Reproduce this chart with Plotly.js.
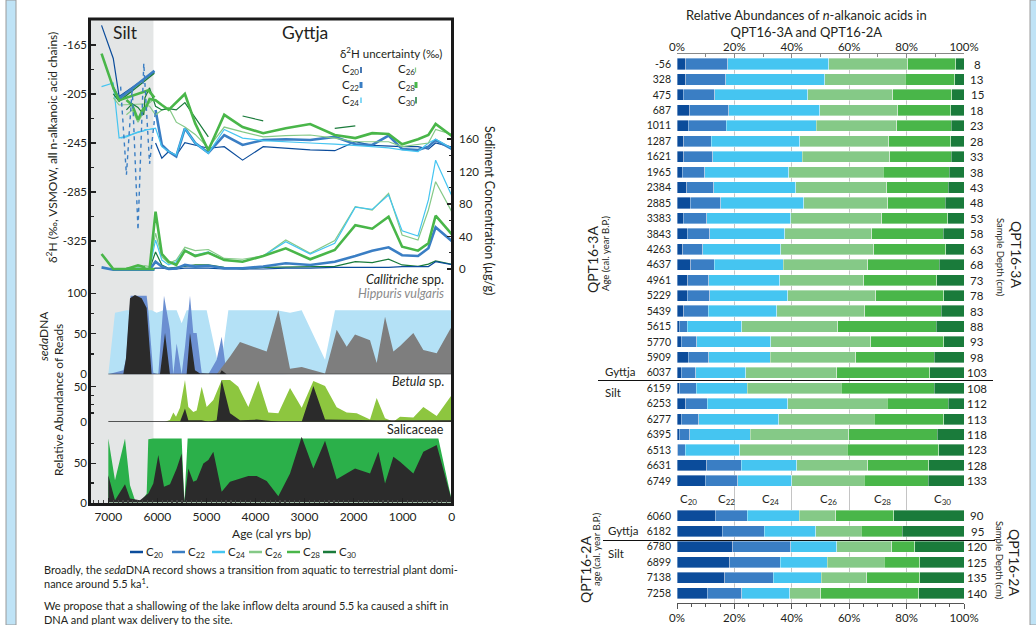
<!DOCTYPE html>
<html><head><meta charset="utf-8">
<script src="https://cdn.plot.ly/plotly-3.0.1.min.js"></script>
<style>html,body{margin:0;padding:0;background:#fff;} #chart{width:1036px;height:625px;}</style>
</head><body><div id="chart"></div>
<script>
// ---------------- DATA ----------------
// QPT16-3A samples (age cal yr BP, depth cm)
const ages3A = [-56, 328, 475, 687, 1011, 1287, 1621, 1965, 2384, 2885, 3383, 3843, 4263, 4637, 4961, 5229, 5439, 5615, 5770, 5909, 6037, 6159, 6253, 6277, 6395, 6513, 6631, 6749];
const depths3A = [8, 13, 15, 18, 23, 28, 33, 38, 43, 48, 53, 58, 63, 68, 73, 78, 83, 88, 93, 98, 103, 108, 112, 113, 118, 123, 128, 133];
// QPT16-2A samples
const ages2A = [6060, 6182, 6780, 6899, 7138, 7258];
const depths2A = [90, 95, 120, 125, 135, 140];
const chains = ['C20', 'C22', 'C24', 'C26', 'C28', 'C30'];
const chainLabels = ['C<sub>20</sub>', 'C<sub>22</sub>', 'C<sub>24</sub>', 'C<sub>26</sub>', 'C<sub>28</sub>', 'C<sub>30</sub>'];
const d2HTicks = [-165, -205, -245, -285, -325];
const concTicks = [0, 40, 80, 120, 160];
const pctTicks = [0, 20, 40, 60, 80, 100];

// relative abundances (%) 3A
const c20_3A = [3.1, 3.0, 2.2, 4.4, 3.9, 2.3, 2.3, 1.9, 3.4, 4.6, 2.2, 3.5, 2.0, 4.8, 3.7, 3.5, 2.3, 0.8, 1.5, 3.9, 1.5, 0.8, 3.0, 1.5, 0.7, 0.2, 10.4, 9.9];
const c22_3A = [14.5, 13.9, 11.0, 13.6, 13.2, 9.6, 10.1, 7.8, 9.4, 10.6, 8.1, 7.9, 6.9, 8.1, 7.3, 7.9, 8.6, 2.8, 5.3, 7.1, 5.1, 5.9, 7.6, 6.0, 3.7, 2.6, 12.0, 11.3];
const c24_3A = [35.3, 34.5, 32.4, 31.7, 31.5, 30.8, 31.3, 29.3, 28.5, 29.0, 29.3, 26.1, 27.2, 24.2, 24.8, 27.1, 23.9, 18.9, 25.8, 21.5, 17.3, 17.7, 28.0, 27.9, 21.1, 19.1, 19.4, 18.7];
const c26_3A = [27.5, 28.1, 29.6, 27.2, 28.0, 31.1, 30.5, 32.8, 31.7, 29.2, 31.7, 30.4, 32.5, 29.4, 29.3, 30.8, 30.7, 33.5, 34.9, 29.8, 31.8, 32.8, 34.7, 33.3, 34.4, 37.4, 24.7, 25.3];
const c28_3A = [16.8, 17.3, 20.6, 18.5, 18.9, 21.6, 21.3, 23.1, 21.5, 20.0, 23.0, 24.8, 25.1, 24.9, 25.4, 23.7, 26.5, 34.3, 25.5, 27.3, 32.4, 32.4, 21.2, 24.3, 30.7, 31.9, 21.2, 22.4];
const c30_3A = [2.8, 3.2, 4.2, 4.6, 4.5, 4.6, 4.5, 5.1, 5.5, 6.6, 5.7, 7.3, 6.3, 8.6, 9.5, 7.0, 8.0, 9.7, 7.0, 10.4, 11.9, 10.4, 5.5, 7.0, 9.4, 8.8, 12.3, 12.4];
// relative abundances (%) 2A
const c20_2A = [13.3, 15.8, 19.4, 18.3, 16.6, 10.6];
const c22_2A = [11.1, 14.6, 20.2, 17.7, 17.0, 11.9];
const c24_2A = [18.2, 17.9, 16.0, 16.4, 16.7, 16.7];
const c26_2A = [12.7, 15.9, 19.2, 19.8, 15.8, 10.9];
const c28_2A = [20.2, 14.3, 8.0, 12.4, 18.5, 34.2];
const c30_2A = [24.5, 21.5, 17.2, 15.4, 15.4, 15.7];

// d2H (permil) 3A, same order as ages3A
const d2H_c20_3A = [-249, -245, -250, -248, -248, -247.5, -247, -244, -251.3, -250.7, -249, -248, -259, -248, -249.3, -247, -244.7, -255, -252, -257.5, -245, null, null, null, null, null, null, null];
const d2H_c22_3A = [-251, -242.6, -248, -250.7, -250, -239, -246.6, -246, -240, -242.6, -242, -242.6, -246.6, -238.5, -253, -245, -233, -256, -252, -246.6, -218, null, null, null, null, null, null, null];
const d2H_c24_3A = [-250.7, -242, -245, -252, -250.7, -249, -248, -247, -246, -245, -244, -243, -241, -234, -253.4, -245, -233, -255, -252, -248, -233, -234, -234, -235, -236, -238, -240, -241];
const d2H_c26_3A = [-238.5, -234, -245, -246, -248, -244, -244, -244, -241, -238.5, -239, -240, -236, -232, -249, -238, -232, -228, -216, -218, -222, -215, -214, -220, -228, -218, -222, null];
const d2H_c28_3A = [-241, -229.5, -238.5, -242, -246, -237.6, -237, -241, -238.5, -229.5, -233, -237, -232, -222, -251, -229, -205, -212, -218, -214, -210, -209, -218, -216, -226, -214, -210, null];
const d2H_c30_3A = [null, null, null, null, null, null, null, -231, -233, null, null, -227, -223, null, -240, -224, -212, -218, -217, -218, -215, -200, -208, -222, -216, -213, -218, null];
// C22 silt values (dashed)
const silt_c22_ages = [6749, 6631, 6513, 6395, 6277, 6159, 6037];
const silt_c22_d2H = [-199, -271, -200, -316, -180, -262, -218];
// d2H 2A, same order as ages2A
const d2H_c20_2A = [-187, null, -207, -176, -149, null];
const d2H_c22_2A = [-186, null, -209, -200, null, null];
const d2H_c24_2A = [-233, -234, -241, -196, -199, null];
const d2H_c26_2A = [-209, -213, -214, -208, null, null];
const d2H_c28_2A = [-208, -202, -210, -200, -172, null];
const d2H_c30_2A = [-188, null, -211, -205, null, null];

// sediment concentration (ug/g) 3A
const conc_c20_3A = [5, 9, 3, 3, 3, 2, 2, 2, 2, 1, 1, 0, 0, 0, 1, 1, 1, 0, 0, 1, 1, -1, -1, -1, -1, -1, -1, null];
const conc_c22_3A = [31.6, 51.3, 25.5, 16, 17, 26.7, 22.6, 16, 9, 5, 7, 3, 1, 1, 4, 2.9, 5, 0.8, 0, 2.9, 9, -1, -1, -1, -1, -1, -1, null];
const conc_c24_3A = [82.8, 134, 85, 40.6, 47, 91, 73.4, 76, 31.6, 18.5, 33.6, 16, 9, 11, 21, 17, 23.4, 9, 5, 11, 35.7, 1, 0, 0, 1, 0, 0, null];
const conc_c26_3A = [64.4, 107.5, 72.6, 35.7, 41.8, 93, 72.6, 76.7, 34.9, 19.3, 35.7, 16, 12, 13, 24, 22.6, 26.7, 11, 7, 15, 44, 3, 4, 2, 3, 2, 1, null];
const conc_c28_3A = [39, 65.6, 31.6, 22.6, 27.4, 64.4, 49.6, 54, 23.4, 12, 25.5, 16, 9, 11, 20, 16, 22.6, 5, 9, 18.5, 70.5, 0, 0, 2.5, 4.5, 2, 0, null];
const conc_c30_3A = [5, 10, 6, 3.3, 5, 12, 7.8, 9, 3.3, 3, 3, 2, 0, 2, 5, 5, 3.3, 2, 1, 5, 21, 0, 0, 0, 0, 0, 0, null];
// concentration 2A
const conc_c22_2A = [-1, -1, -1, -1, 2, null];
const conc_c28_2A = [0, 0, 0, 0, 18.5, null];

// sedaDNA relative abundance of reads (%)
const aqA_ages = [7000, 6864, 6626, 6117, 6015, 5879, 5607, 5505, 5403, 4995, 4723, 4553, 3772, 3568, 3296, 3058, 2582, 2379, 0];
const aqA_vals = [0, 76, 79, 79, 76, 79, 79, 63, 79, 79, 2, 79, 79, 79, 76, 79, 18, 79, 79];
const aqB_ages = [7000, 6694, 6640, 6545, 6218, 6185, 6083, 5981, 5865, 5743, 5675, 5607, 5505, 5437, 5335, 5267, 5199, 5097, 4961, 4791, 4689, 4587, 4316, 4044, 3772, 3296];
const aqB_vals = [0, 5, 18, 97, 97, 79, 2, 0, 97, 55, 0, 38, 0, 34, 97, 51, 51, 2, 0, 18, 46.5, 0, 9.5, 3, 1, 0];
const callitriche_ages = [7000, 6694, 6640, 6558, 6456, 6320, 6218, 6117, 5947, 5844, 5743, 5403, 5335, 5233, 5131, 4723, 4689, 4587];
const callitriche_vals = [0, 0, 20, 94, 98, 94, 82, 0, 0, 51, 0, 0, 51, 5, 1, 1, 5, 0];
const hippuris_ages = [5199, 4791, 4519, 4316, 3772, 3534, 3296, 3058, 2582, 2345, 2141, 1971, 1665, 1529, 1359, 1189, 1053, 782, 578, 306, 0];
const hippuris_vals = [0, 0, 22, 40, 28, 79, 7, 9, 1, 55, 34, 49, 42, 14, 71, 28, 35, 51, 30, 26, 59];
const betulaA_ages = [5844, 5743, 5675, 5620, 5539, 5437, 5369, 5267, 5199, 5097, 4995, 4859, 4689, 4519, 4350, 4146, 3942, 3738, 3534, 3296, 3058, 2820, 2582, 2345, 2141, 1937, 1665, 1529, 1359, 1189, 1053, 782, 578, 306, 0];
const betulaA_vals = [0, 2.4, 13, 7, 20, 59.5, 21, 14, 16, 50, 21, 31, 59.5, 59.5, 50, 21, 58.6, 13, 12, 48, 20, 58, 51, 20.5, 13, 12, 3.3, 34, 5, 0, 7, 6, 21, 8, 38];
const betulaB_ages = [5539, 5437, 5369, 5097, 4961, 4791, 4689, 4519, 4316, 3976, 3534, 3058, 2820, 2582, 1529, 0];
const betulaB_vals = [0, 19, 2, 2, 0, 2, 59.5, 12, 2, 3, 0, 0, 51, 3, 2, 2];
const salixA_ages = [7000, 6864, 6660, 6558, 6456, 6320, 6218, 6185, 6083, 5505, 5450, 5383, 272, 0];
const salixA_vals = [82, 28.6, 82, 22, 3, 2, 11.5, 81, 82, 82, 0, 82, 82, 3];
const salixB_ages = [7000, 6864, 6660, 6558, 6354, 6185, 6083, 5981, 5865, 5743, 5607, 5505, 5450, 5369, 5267, 5199, 5063, 4961, 4859, 4689, 4519, 4146, 3976, 3772, 3534, 3296, 3058, 2820, 2582, 2345, 1971, 1665, 1495, 1359, 1189, 1053, 782, 578, 306, 0];
const salixB_vals = [35, 3, 23.5, 5, 3, 11.5, 24.4, 60.7, 20, 23.5, 43.6, 62.8, 1, 43.6, 26.5, 28.6, 50, 54.3, 65, 13.7, 26.5, 33.8, 33.8, 27.4, 8, 37, 84, 43.6, 79, 29.9, 43.6, 37, 65, 24.4, 58.6, 52, 37, 65, 73.5, 3];

// ---------------- STYLE ----------------
const COL = {C20:'#0b4c9b', C22:'#3a7ec4', C24:'#45c5f1', C26:'#85c987', C28:'#49b649', C30:'#1a7b3b'};
const WID = {C20:1.2, C22:2.6, C24:1.2, C26:1.2, C28:2.6, C30:1.2};
const FONT = 'Lato, "Open Sans", sans-serif';
const TXT = '#231f20';
const W = 1036, H = 625;
const PX = x => x / W, PY = y => 1 - y / H;

const traces = [];
function area(x, y, color, ya) {
  traces.push({type:'scatter', mode:'lines', x:x, y:y, fill:'tozeroy', fillcolor:color,
    line:{width:0, color:color}, xaxis:'x', yaxis:ya, hoverinfo:'skip', showlegend:false});
}
area(aqA_ages, aqA_vals, '#b4e1f6', 'y3');
area(aqB_ages, aqB_vals, '#6b8fd1', 'y3');
area(hippuris_ages, hippuris_vals, '#7e7e7e', 'y3');
area(callitriche_ages, callitriche_vals, '#2b2b2b', 'y3');
area(betulaA_ages, betulaA_vals, '#8dc63f', 'y4');
area(betulaB_ages, betulaB_vals, '#2b2b2b', 'y4');
area(salixA_ages, salixA_vals, '#2bb04a', 'y5');
area(salixB_ages, salixB_vals, '#2b2b2b', 'y5');

function line(x, y, ch, ya, extra) {
  traces.push(Object.assign({type:'scatter', mode:'lines', x:x, y:y, xaxis:'x', yaxis:ya,
    line:{color:COL[ch], width:WID[ch]}, hoverinfo:'skip', showlegend:false}, extra || {}));
}
const conc3A = {C20:conc_c20_3A, C22:conc_c22_3A, C24:conc_c24_3A, C26:conc_c26_3A, C28:conc_c28_3A, C30:conc_c30_3A};
const d2H3A = {C20:d2H_c20_3A, C22:d2H_c22_3A, C24:d2H_c24_3A, C26:d2H_c26_3A, C28:d2H_c28_3A, C30:d2H_c30_3A};
const d2H2A = {C20:d2H_c20_2A, C22:d2H_c22_2A, C24:d2H_c24_2A, C26:d2H_c26_2A, C28:d2H_c28_2A, C30:d2H_c30_2A};
['C30','C20','C22','C26','C24','C28'].forEach(ch => line(ages3A, conc3A[ch], ch, 'y2'));
line(ages2A, conc_c22_2A, 'C22', 'y2');
line(ages2A, conc_c28_2A, 'C28', 'y2');
['C20','C22','C24','C26','C30','C28'].forEach(ch => {
  line(ages3A, d2H3A[ch], ch, 'y');
  line(ages2A, d2H2A[ch], ch, 'y', {connectgaps:true});
});
line(silt_c22_ages, silt_c22_d2H, 'C22', 'y', {line:{color:COL.C22, width:1.4, dash:'4px,4px'}});

// bars
const GAP = 29.27;
const pos3A = ages3A.map((a, i) => i);
const pos2A = ages2A.map((a, j) => GAP + j);
const posAll = pos3A.concat(pos2A);
const barVals = {
  C20: c20_3A.concat(c20_2A), C22: c22_3A.concat(c22_2A), C24: c24_3A.concat(c24_2A),
  C26: c26_3A.concat(c26_2A), C28: c28_3A.concat(c28_2A), C30: c30_3A.concat(c30_2A)
};
chains.forEach(ch => traces.push({type:'bar', orientation:'h', x:barVals[ch], y:posAll, width:0.72,
  marker:{color:COL[ch], line:{color:'rgba(255,255,255,0.6)', width:0.6}}, xaxis:'x3', yaxis:'y6',
  hoverinfo:'skip', showlegend:false}));
// carrier for the bottom percentage axis
traces.push({type:'scatter', mode:'none', x:[0, 100], y:[0, 0], xaxis:'x4', yaxis:'y6', hoverinfo:'skip', showlegend:false});

// ---------------- LAYOUT ----------------
const tf = s => ({family:FONT, size:s, color:TXT});
const leftY = (dom, rng, dt, mdt) => ({domain:dom, range:rng, anchor:'x', tickmode:'linear', tick0:0, dtick:dt,
  ticks:'inside', ticklen:5, tickwidth:1.2, tickcolor:'#222', showgrid:false, zeroline:false, showline:false,
  tickfont:tf(11.5), minor:{ticks:'inside', ticklen:3, tickcolor:'#222', tick0:0, dtick:mdt}, ticklabelstandoff:3});

const layout = {
  width:W, height:H, margin:{l:0, r:0, t:0, b:0}, paper_bgcolor:'#fff', plot_bgcolor:'rgba(0,0,0,0)',
  font:{family:FONT, color:TXT}, showlegend:false, barmode:'stack',
  xaxis:{domain:[PX(91), PX(452)], range:[7353, -6], anchor:'y5', tickmode:'linear', tick0:0, dtick:1000,
    ticks:'inside', ticklen:5, tickwidth:1.2, tickcolor:'#222', showgrid:false, zeroline:false, showline:false,
    tickfont:tf(12), ticklabelstandoff:5, minor:{ticks:'inside', ticklen:3, tickcolor:'#444', dtick:100, tick0:0},
    title:{text:'Age (cal yrs bp)', font:tf(12), standoff:7}},
  yaxis:Object.assign(leftY([PY(282), PY(20)], [-358.5, -144.6], 40, 20), {tickmode:'array', tickvals:d2HTicks,
    ticktext:d2HTicks.map(String), minor:{ticks:'inside', ticklen:3, tickcolor:'#222', tickmode:'linear', tick0:-165, dtick:20}}),
  yaxis2:{overlaying:'y', side:'right', anchor:'x', range:[-16, 306.5], tickmode:'array', tickvals:concTicks,
    ticks:'inside', ticklen:5, tickwidth:1.2, tickcolor:'#222', showgrid:false, zeroline:false, showline:false,
    tickfont:tf(11.5), ticklabelstandoff:6, minor:{ticks:'inside', ticklen:3, tickcolor:'#222', tickmode:'array', tickvals:[20, 60, 100, 140]}},
  yaxis3:leftY([PY(374.3), PY(290)], [0, 104.07], 50, 25),
  yaxis4:leftY([PY(421.7), PY(378)], [0, 62.43], 50, 12.5),
  yaxis5:leftY([PY(502.5), PY(428)], [0, 95.3], 50, 25),
  xaxis3:{domain:[PX(677), PX(964)], range:[0, 100], anchor:'y6', side:'top', tickmode:'array', tickvals:pctTicks,
    ticktext:pctTicks.map(v => v + '%'), ticks:'inside', ticklen:4, tickcolor:'#888', showline:true, linecolor:'#888', linewidth:1,
    showgrid:true, gridcolor:'#c4c4c4', gridwidth:1, zeroline:false, tickfont:tf(11.5), ticklabelstandoff:-3,
    minor:{ticks:'inside', ticklen:3, tickcolor:'#888', tickmode:'array', tickvals:[10, 30, 50, 70, 90]}},
  xaxis4:{overlaying:'x3', range:[0, 100], anchor:'y6', side:'bottom', tickmode:'array', tickvals:pctTicks,
    ticktext:pctTicks.map(v => v + '%'), ticks:'outside', ticklen:5, tickcolor:'#555', showline:true, linecolor:'#555', linewidth:1,
    showgrid:false, zeroline:false, tickfont:tf(11.5),
    minor:{ticks:'outside', ticklen:3, tickcolor:'#555', tickmode:'array', tickvals:[5,10,15,25,30,35,45,50,55,65,70,75,85,90,95]}},
  yaxis6:{domain:[PY(602.5), PY(54)], range:[34.88, -0.65], anchor:'x3', tickmode:'array', tickvals:posAll,
    ticktext:ages3A.concat(ages2A).map(String), ticks:'', showgrid:false, zeroline:false, showline:false,
    tickfont:tf(10.5), ticklabelstandoff:5},
  shapes:[], annotations:[]
};
const S = layout.shapes, A = layout.annotations;
// side stripes
S.push({type:'rect', xref:'paper', yref:'paper', x0:PX(6), x1:PX(16), y0:0, y1:1, fillcolor:'#bfe3f6', line:{color:'#9a9a9a', width:1}, layer:'below'});
S.push({type:'rect', xref:'paper', yref:'paper', x0:PX(1030), x1:PX(1037), y0:0, y1:1, fillcolor:'#bfe3f6', line:{color:'#9a9a9a', width:1}, layer:'below'});
// silt shading
S.push({type:'rect', xref:'x', yref:'paper', x0:7353, x1:6080, y0:PY(503), y1:PY(20), fillcolor:'#e4e6e6', line:{width:0}, layer:'below'});
// baselines
S.push({type:'line', xref:'x', yref:'y3', x0:7000, x1:0, y0:0, y1:0, line:{color:'#222', width:1.3}});
S.push({type:'line', xref:'x', yref:'y4', x0:7000, x1:0, y0:0, y1:0, line:{color:'#222', width:1.3}});
// frame
S.push({type:'rect', xref:'paper', yref:'paper', x0:PX(89.5), x1:PX(452.5), y0:PY(504.5), y1:PY(19), line:{color:'#1a1a1a', width:3}, fillcolor:'rgba(0,0,0,0)'});
// uncertainty legend glyphs
[[361, 67, 73, 'C20', 1.5], [361, 82, 88, 'C22', 3], [361, 97.5, 103, 'C24', 1.3],
 [415.5, 67.5, 72.5, 'C26', 1.3], [416, 82, 88, 'C28', 3], [416, 97, 103.5, 'C30', 1.5]].forEach(g =>
  S.push({type:'line', xref:'paper', yref:'paper', x0:PX(g[0]), x1:PX(g[0]), y0:PY(g[1]), y1:PY(g[2]), line:{color:COL[g[3]], width:g[4]}}));
// bottom legend
[130, 172, 212, 249, 287, 323].forEach((x, i) => {
  S.push({type:'line', xref:'paper', yref:'paper', x0:PX(x), x1:PX(x + 13), y0:PY(552), y1:PY(552), line:{color:COL[chains[i]], width:2.5}});
  A.push({xref:'paper', yref:'paper', x:PX(x + 13.5), y:PY(552), xanchor:'left', yanchor:'middle', text:chainLabels[i], showarrow:false, font:tf(11.5)});
});
// bar chart gyttja/silt boundaries
S.push({type:'line', xref:'paper', yref:'paper', x0:PX(598), x1:PX(993), y0:PY(380.5), y1:PY(380.5), line:{color:'#111', width:1.2}});
S.push({type:'line', xref:'paper', yref:'paper', x0:PX(603), x1:PX(995), y0:PY(540.5), y1:PY(540.5), line:{color:'#111', width:1.2}});

function ann(x, y, text, size, opts) {
  A.push(Object.assign({xref:'paper', yref:'paper', x:PX(x), y:PY(y), text:text, showarrow:false,
    xanchor:'center', yanchor:'middle', font:tf(size)}, opts || {}));
}
ann(125, 33, 'Silt', 17.5);
ann(305, 33, 'Gyttja', 17.5);
ann(338, 53, 'δ<sup>2</sup>H uncertainty (‰)', 11.5, {xanchor:'left'});
[[340, 70, 0], [340, 85, 1], [340, 100, 2], [396, 70, 3], [396, 85, 4], [396, 100, 5]].forEach(t =>
  ann(t[0], t[1], chainLabels[t[2]], 11.5, {xanchor:'left'}));
ann(446, 279, '<i>Callitriche</i> spp.', 12.5, {xanchor:'right'});
ann(446, 293, '<i>Hippuris vulgaris</i>', 12.5, {xanchor:'right', font:{family:FONT, size:12.5, color:'#8a8a8a'}});
ann(446, 381, '<i>Betula</i> sp.', 12.5, {xanchor:'right'});
ann(446, 430, 'Salicaceae', 12.5, {xanchor:'right'});
ann(52, 148, 'δ<sup>2</sup>H (‰, VSMOW, all n-alkanoic acid chains)', 12, {textangle:-90});
ann(490, 210, 'Sediment Concentration (µg/g)', 12.5, {textangle:90});
ann(43, 336, '<i>seda</i>DNA', 12, {textangle:-90});
ann(58, 400, 'Relative Abundance of Reads', 12, {textangle:-90});
ann(42, 576, 'Broadly, the <i>seda</i>DNA record shows a transition from aquatic to terrestrial plant domi-<br>nance around 5.5 ka<sup>1</sup>.', 11, {xanchor:'left', align:'left'});
ann(42, 612, 'We propose that a shallowing of the lake inflow delta around 5.5 ka caused a shift in<br>DNA and plant wax delivery to the site.', 11, {xanchor:'left', align:'left'});
// right chart texts
ann(806, 23.5, 'Relative Abundances of <i>n</i>-alkanoic acids in<br>QPT16-3A and QPT16-2A', 13);
ann(593, 260, 'QPT16-3A', 14, {textangle:-90});
ann(605, 254, 'Age (cal. year B.P.)', 9.5, {textangle:-90});
ann(1017, 254, 'QPT16-3A', 14, {textangle:90});
ann(1001, 257, 'Sample Depth (cm)', 9.5, {textangle:90});
ann(585, 570, 'QPT16-2A', 14, {textangle:-90});
ann(596, 549, 'age (cal. year B.P.)', 9.5, {textangle:-90});
ann(1015, 562, 'QPT16-2A', 14, {textangle:90});
ann(1000, 560, 'Sample Depth (cm)', 9.5, {textangle:90});
ann(603, 371, 'Gyttja', 11.5, {xanchor:'left'});
ann(603, 392, 'Silt', 11.5, {xanchor:'left'});
ann(606, 530, 'Gyttja', 11.5, {xanchor:'left'});
ann(606, 553, 'Silt', 11.5, {xanchor:'left'});
[688, 726, 770, 828, 882, 942].forEach((x, i) => ann(x, 499, chainLabels[i], 11.5));
// depth labels on the right of the bars (placed with the bar axis scale)
depths3A.concat(depths2A).forEach((d, i) => A.push({xref:'paper', yref:'y6', x:PX(977), y:posAll[i], text:String(d),
  showarrow:false, xanchor:'center', yanchor:'middle', font:tf(11.5)}));

Plotly.newPlot('chart', traces, layout, {staticPlot:true, displayModeBar:false});
</script></body></html>
